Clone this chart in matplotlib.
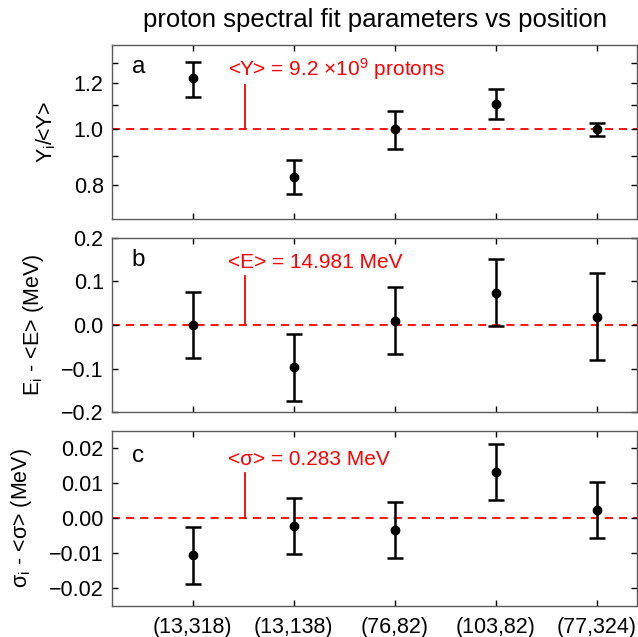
import numpy as np
import matplotlib
matplotlib.use("Agg")
import matplotlib.pyplot as plt

plt.rcParams['font.family'] = ['Liberation Sans', 'DejaVu Sans']
plt.rcParams['mathtext.default'] = 'regular'

positions = ['(13,318)', '(13,138)', '(76,82)', '(103,82)', '(77,324)']

yield_ratio = [1.224, 0.828, 1.000, 1.107, 1.000]
yield_err = [0.085, 0.056, 0.075, 0.065, 0.025]

energy_diff = [0.000, -0.097, 0.010, 0.074, 0.019]
energy_err = [0.076, 0.077, 0.076, 0.076, 0.100]

sigma_diff = [-0.0105, -0.0022, -0.0033, 0.0133, 0.0025]
sigma_err = [0.0081, 0.0080, 0.0080, 0.0080, 0.0080]

mean_texts = ['<Y> = 9.2 \u00d710$^{9}$ protons',
              '<E> = 14.981 MeV',
              '<σ> = 0.283 MeV']
ylabels = ['Y$_{i}$/<Y>', 'E$_{i}$ - <E> (MeV)', 'σ$_{i}$ - <σ> (MeV)']
letters = ['a', 'b', 'c']

spine_col = '#5a5a5a'
x = np.arange(1, len(positions) + 1)

fig = plt.figure(figsize=(6.38, 6.37), dpi=100)
rects = [[0.1755, 0.6562, 0.8230, 0.2736],
         [0.1755, 0.3527, 0.8230, 0.2744],
         [0.1755, 0.0487, 0.8230, 0.2747]]
axes = [fig.add_axes(r) for r in rects]

series = [(yield_ratio, yield_err, 1.0),
          (energy_diff, energy_err, 0.0),
          (sigma_diff, sigma_err, 0.0)]

for i, ax in enumerate(axes):
    vals, errs, ref = series[i]
    ax.axhline(ref, color='red', lw=1.3, dashes=(4.5, 3.3), zorder=1)
    ax.errorbar(x, vals, yerr=errs, fmt='o', color='black', ms=6,
                elinewidth=1.8, capsize=6, capthick=1.8, zorder=3)
    ax.set_xlim(0.2, 5.4)
    ax.set_xticks(x)
    for s in ax.spines.values():
        s.set_color(spine_col)
        s.set_linewidth(1.0)
    ax.tick_params(direction='in', top=True, right=True, length=4.5,
                   width=1.0, color='black', labelsize=15.5, pad=6)
    ax.set_ylabel(ylabels[i], fontsize=15.5, labelpad=11)
    ax.text(0.038, [0.836, 0.836, 0.82][i], letters[i], transform=ax.transAxes,
            fontsize=17.5, va='baseline')

axes[0].set_yscale('log')
axes[0].set_ylim(0.7, 1.4)
axes[0].set_yticks([0.8, 0.9, 1.0, 1.1, 1.2, 1.3])
axes[0].set_yticklabels(['0.8', '', '1.0', '', '1.2', ''])
axes[0].yaxis.set_minor_locator(matplotlib.ticker.NullLocator())

axes[1].set_ylim(-0.2, 0.2)
axes[1].set_yticks([-0.2, -0.1, 0.0, 0.1, 0.2])
axes[1].set_yticklabels(['\u22120.2', '\u22120.1', '0.0', '0.1', '0.2'])

axes[2].set_ylim(-0.025, 0.025)
axes[2].set_yticks([-0.02, -0.01, 0.0, 0.01, 0.02])
axes[2].set_yticklabels(['\u22120.02', '\u22120.01', '0.00', '0.01', '0.02'])

for ax in axes[:2]:
    ax.set_xticklabels([])
axes[2].set_xticklabels(positions, fontsize=15.5)
axes[2].tick_params(axis='x', pad=8)

# vertical markers tying the mean labels to the reference line
line_x = 1.52
tops = [1.194, 0.1115, 0.0131]
refs = [1.0, 0.0, 0.0]
text_y = [0.820, 0.824, 0.806]
for i, ax in enumerate(axes):
    ax.plot([line_x, line_x], [refs[i], tops[i]], color='red', lw=1.3, zorder=2)
    ax.text(1.35, text_y[i], mean_texts[i], color='red', fontsize=15,
            va='baseline', transform=ax.get_xaxis_transform())

fig.text(0.588, 0.958, 'proton spectral fit parameters vs position',
         ha='center', va='baseline', fontsize=18.5)

fig.savefig('out.png', dpi=100)
